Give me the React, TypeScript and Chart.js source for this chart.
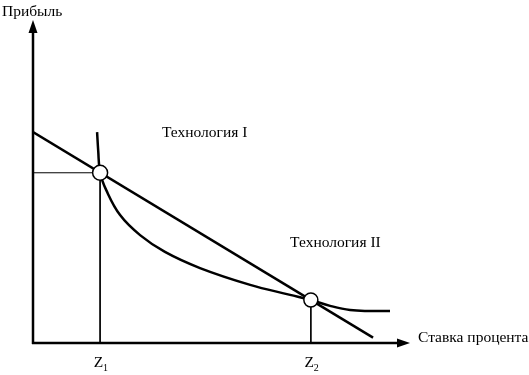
import React, { useEffect, useRef } from "react";
import { Chart, registerables } from "chart.js";

Chart.register(...registerables);

// Straight line
const lineX = [0, 90.2];
const lineY = [65.3, 1.65];

// Curve: Технология I → Технология II
const curveX = [17.0, 17.3, 17.8, 19.4, 23.1, 28.4, 35.0, 44.3, 57.6, 68.2, 73.7, 78.8, 84.1, 89.4, 94.7];
const curveY = [65.3, 59.5, 52.7, 47.4, 39.6, 33.4, 28.2, 23.2, 18.0, 14.9, 13.3, 11.5, 10.2, 9.9, 9.9];

// Intersection points
const crossX = [17.8, 73.7];
const crossY = [52.7, 13.3];
const crossLabels = ["1", "2"];

const axisTitleY = "Прибыль";
const axisTitleX = "Ставка процента";
const tech1 = "Технология I";
const tech2 = "Технология II";

const FONT = "'Liberation Serif', 'Times New Roman', serif";

export default function App() {
  const ref = useRef<HTMLCanvasElement | null>(null);

  useEffect(() => {
    if (!ref.current) return;
    const guides1 = [
      { x: 0, y: crossY[0] },
      { x: crossX[0], y: crossY[0] },
      { x: crossX[0], y: 0 },
    ];
    const guides2 = [
      { x: crossX[1], y: crossY[1] },
      { x: crossX[1], y: 0 },
    ];

    const overlay = {
      id: "overlay",
      afterDraw(chart: any) {
        const ctx = chart.ctx;
        const xs = chart.scales.x;
        const ys = chart.scales.y;
        const x0 = xs.getPixelForValue(0);
        const y0 = ys.getPixelForValue(0);
        const top = chart.chartArea.top;
        const right = chart.chartArea.right;
        ctx.save();
        ctx.strokeStyle = "#000";
        ctx.fillStyle = "#000";
        ctx.lineWidth = 2.5;
        // y axis
        ctx.beginPath();
        ctx.moveTo(x0, y0 + 1);
        ctx.lineTo(x0, top + 8);
        ctx.stroke();
        ctx.beginPath();
        ctx.moveTo(x0, top);
        ctx.lineTo(x0 - 4.5, top + 13);
        ctx.lineTo(x0 + 4.5, top + 13);
        ctx.closePath();
        ctx.fill();
        // x axis
        ctx.beginPath();
        ctx.moveTo(x0 - 1, y0);
        ctx.lineTo(right - 8, y0);
        ctx.stroke();
        ctx.beginPath();
        ctx.moveTo(right, y0);
        ctx.lineTo(right - 13, y0 - 4.5);
        ctx.lineTo(right - 13, y0 + 4.5);
        ctx.closePath();
        ctx.fill();

        // texts
        ctx.font = `15.5px ${FONT}`;
        ctx.textBaseline = "middle";
        ctx.textAlign = "left";
        ctx.fillText(axisTitleY, 2, 12);
        ctx.fillText(axisTitleX, right + 8, y0 - 5);
        ctx.fillText(tech1, xs.getPixelForValue(34.2), ys.getPixelForValue(65));
        ctx.fillText(tech2, xs.getPixelForValue(68.2), ys.getPixelForValue(31));
        crossX.forEach((cx, i) => {
          const px = xs.getPixelForValue(cx);
          ctx.font = `15.5px ${FONT}`;
          ctx.textAlign = "right";
          ctx.fillText("Z", px + 3, y0 + 20);
          ctx.font = `10px ${FONT}`;
          ctx.textAlign = "left";
          ctx.fillText(crossLabels[i], px + 3, y0 + 25);
        });
        ctx.restore();
      },
    };

    const chart = new Chart(ref.current, {
      type: "line",
      data: {
        datasets: [
          {
            data: crossX.map((x, i) => ({ x, y: crossY[i] })),
            showLine: false,
            pointRadius: [7.5, 7],
            pointBackgroundColor: "#fff",
            pointBorderColor: "#000",
            pointBorderWidth: 1.5,
          },
          {
            data: lineX.map((x, i) => ({ x, y: lineY[i] })),
            borderColor: "#000",
            borderWidth: 2.5,
            pointRadius: 0,
          },
          {
            data: curveX.map((x, i) => ({ x, y: curveY[i] })),
            borderColor: "#000",
            borderWidth: 2.5,
            pointRadius: 0,
            tension: 0.4,
          },
          {
            data: guides1,
            borderColor: "#000",
            borderWidth: 1,
            pointRadius: 0,
          },
          {
            data: guides2,
            borderColor: "#000",
            borderWidth: 1,
            pointRadius: 0,
          },
        ],
      },
      options: {
        animation: false,
        responsive: false,
        maintainAspectRatio: false,
        layout: { padding: { left: 33, top: 20, right: 119, bottom: 32 } },
        scales: {
          x: { type: "linear", min: 0, max: 100, display: false },
          y: { type: "linear", min: 0, max: 100, display: false },
        },
        plugins: { legend: { display: false }, tooltip: { enabled: false } },
      },
      plugins: [overlay],
    });
    return () => chart.destroy();
  }, []);

  return (
    <div style={{ position: "fixed", left: 0, top: 0, width: 529, height: 375, background: "#fff" }}>
      <canvas ref={ref} width={529} height={375} />
    </div>
  );
}
